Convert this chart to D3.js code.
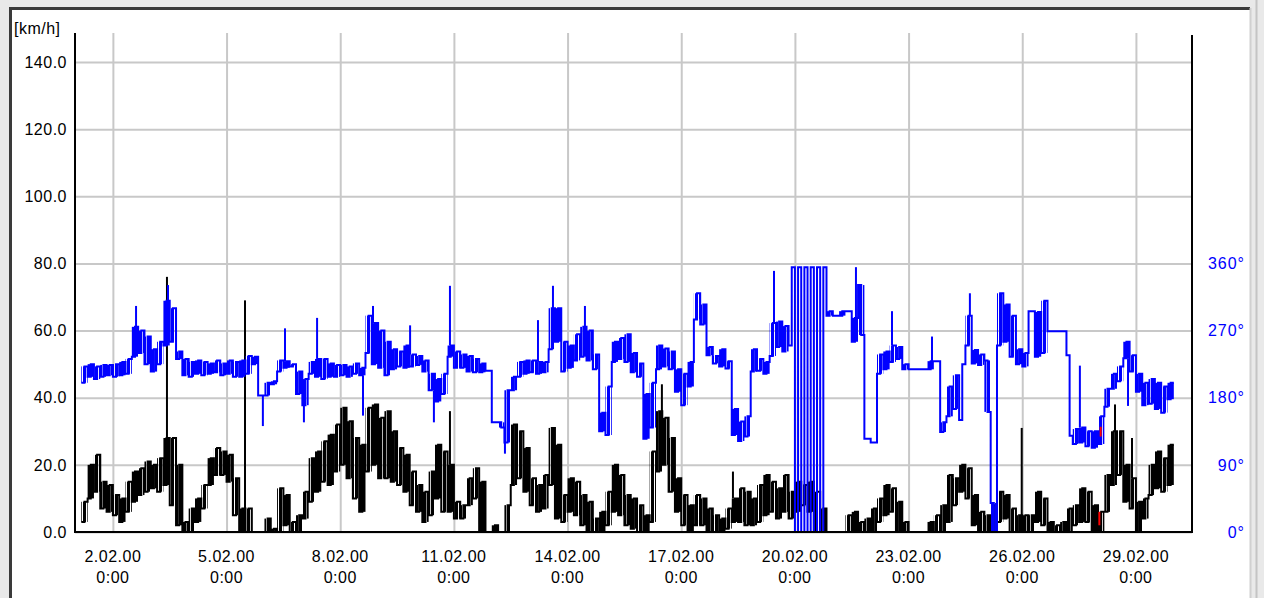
<!DOCTYPE html>
<html>
<head>
<meta charset="utf-8">
<script src="https://cdn.jsdelivr.net/npm/d3@7"></script>
<style>
    body { margin: 0; background: #ffffff; }
    svg { display: block; font-family: "Liberation Sans", Arial, sans-serif; }
    .grid line { stroke: #c8c8c8; stroke-width: 2; }
    .grid path { display: none; }
</style>
</head>
<body>
<script>
// wind speed (black) and direction (blue), 4-hour bins: low / high of the dense band in each bin
var binHours = 4;

var speedLo = [
    null, 3, 10, 12, 7, 6,      // 1.02
    5, 3, 6, 9, 11, 12,         // 2.02
    13, 12, 14, 8, 2, 0,
    0, 3, 7, 14, 17, 17,
    15, 5, 0, 0, 0, 0,          // 5.02
    0, 0, 0, 2, 0, 0,
    4, 9, 12, 15, 14, 18,
    20, 16, 10, 6, 18, 20,      // 8.02
    16, 16, 15, 14, 12, 8,
    6, 3, 5, 10, 6, 6,
    4, 4, 8, 10, 0, 0,          // 11.02
    0, 0, 0, 14, 16, 12,
    8, 6, 7, 14, 4, 3,
    6, 5, 2, 0, 0, 0,           // 14.02
    2, 6, 5, 2, 1, 0,
    0, 3, 18, 20, 12, 6,
    2, 0, 2, 2, 0, 0,           // 17.02
    0, 1, 3, 3, 2, 2,
    3, 5, 6, 4, 6, 4,
    6, 8, 6, 0, 0, 0,           // 20.02
    0, 0, 0, 0, 0, 0,
    0, 3, 5, 6, 0, 0,
    0, 0, 0, 0, 0, 0,           // 23.02
    3, 8, 12, 10, 2, 0,
    0, 0, 3, 4, 0, 0,
    0, 0, 3, 2, 0, 0,           // 26.02
    0, 0, 2, 3, 3, 0,
    0, 6, 14, 17, 9, 7,
    0, 4, 11, 13, 12, 14        // 29.02
];
var speedHi = [
    null, 9, 20, 23, 15, 14,
    11, 10, 15, 18, 19, 21,
    20, 22, 28, 28, 20, 3,
    7, 10, 14, 22, 25, 24,
    23, 16, 7, 7, 0, 0,
    4, 1, 13, 11, 3, 5,
    12, 22, 24, 27, 29, 32,
    37, 33, 28, 26, 37, 38,
    34, 36, 30, 25, 23, 18,
    14, 12, 18, 26, 24, 20,
    9, 8, 16, 19, 15, 0,
    2, 0, 8, 32, 30, 25,
    16, 14, 17, 31, 26, 11,
    16, 15, 11, 9, 4, 6,
    12, 20, 17, 11, 10, 8,
    5, 24, 36, 34, 28, 16,
    11, 8, 11, 10, 7, 5,
    4, 7, 10, 13, 12, 10,
    14, 17, 15, 13, 17, 12,
    15, 14, 15, 12, 7, 0,
    0, 0, 5, 6, 3, 4,
    7, 10, 14, 13, 9, 3,
    0, 0, 0, 3, 5, 8,
    17, 16, 20, 19, 11, 6,
    5, 8, 12, 11, 7, 5,
    5, 5, 12, 10, 3, 2,
    3, 7, 8, 13, 12, 8,
    6, 17, 30, 30, 20, 16,
    9, 10, 20, 24, 22, 26
];
var dirLo = [
    null, 200, 208, 205, 208, 210,
    208, 210, 212, 235, 240, 225,
    215, 225, 250, 255, 232, 210,
    208, 212, 210, 212, 214, 210,
    212, 208, 208, 212, 225, 183,
    183, 198, 215, 220, 222, 185,
    170, 212, 208, 205, 208, 208,
    210, 208, 212, 210, 240, 225,
    220, 210, 218, 222, 220, 222,
    224, 215, 190, 175, 185, 235,
    220, 220, 215, 214, 214, 216,
    147, 147, 120, 190, 208, 212,
    214, 212, 214, 245, 255, 215,
    220, 230, 235, 230, 218, 135,
    130, 228, 232, 228, 214, 208,
    125, 140, 218, 222, 218, 188,
    170, 195, 285, 278, 237, 226,
    222, 219, 130, 122, 128, 215,
    216, 212, 236, 248, 242, 250,
    0, 0, 0, 0, 0, 290,
    290, 290, 296, 255, 331, 125,
    120, 212, 218, 228, 232, 218,
    218, 218, 218, 218, 229, 134,
    155, 165, 150, 250, 226, 224,
    230, 39, 250, 255, 235, 225,
    222, 296, 235, 240, 269, 269,
    269, 237, 118, 120, 115, 113,
    118, 168, 192, 202, 233, 215,
    188, 170, 172, 165, 160, 178
];
var dirHi = [
    null, 222, 225, 222, 224, 224,
    225, 228, 232, 275, 270, 262,
    245, 255, 310, 300, 242, 232,
    228, 230, 228, 226, 230, 226,
    230, 228, 230, 236, 235, 183,
    200, 202, 230, 229, 225, 215,
    205, 228, 232, 232, 226, 224,
    224, 222, 226, 220, 290, 280,
    270, 255, 245, 242, 250, 238,
    236, 230, 212, 205, 212, 250,
    242, 238, 236, 232, 226, 216,
    147, 140, 190, 208, 228, 230,
    230, 228, 228, 300, 300, 255,
    250, 265, 275, 270, 238, 160,
    195, 255, 260, 265, 240, 226,
    185, 200, 250, 246, 242, 218,
    212, 228, 320, 305, 248, 236,
    245, 229, 165, 148, 155, 245,
    232, 228, 280, 282, 276, 355,
    355, 355, 355, 355, 355, 296,
    290, 296, 296, 287, 264, 125,
    120, 238, 242, 250, 248, 225,
    218, 218, 218, 229, 229, 147,
    195, 210, 225, 290, 244, 238,
    161, 0, 320, 305, 290, 245,
    240, 296, 295, 310, 269, 269,
    269, 129, 138, 140, 135, 135,
    155, 192, 212, 222, 255, 237,
    212, 200, 205, 200, 195, 200
];

// single short peaks sticking out of the band
var speedSpikeTimes = ["2000-02-03T10:15Z", "2000-02-05T11:40Z", "2000-02-10T21:30Z", "2000-02-16T11:45Z",
    "2000-02-18T08:45Z", "2000-02-25T23:40Z", "2000-02-28T10:45Z", "2000-02-28T21:30Z"];
var speedSpikeVals = [76, 69, 36, 44, 18, 31, 38, 28];

var dirSpikeTimes = ["2000-02-02T14:40Z", "2000-02-03T10:55Z", "2000-02-05T23:00Z", "2000-02-06T13:00Z",
    "2000-02-07T01:00Z", "2000-02-07T09:20Z", "2000-02-08T14:25Z", "2000-02-08T20:45Z",
    "2000-02-09T20:15Z", "2000-02-10T11:20Z", "2000-02-10T21:30Z", "2000-02-12T08:20Z",
    "2000-02-13T05:15Z", "2000-02-13T14:45Z", "2000-02-14T11:00Z", "2000-02-19T10:45Z",
    "2000-02-21T14:40Z", "2000-02-22T13:30Z", "2000-02-23T14:50Z", "2000-02-24T14:50Z",
    "2000-02-27T12:30Z", "2000-02-28T19:00Z"];
var dirSpikeVals = [303, 331, 142, 273, 147, 287, 156, 303, 277, 147, 330, 105,
    284, 330, 303, 350, 355, 296, 262, 320, 223, 169];

// short red marked piece on 28.02
var flagTimes = ["2000-02-28T00:50Z", "2000-02-28T01:40Z"];
var flagSpeed = [2, 6];
var flagDir = [128, 141];

var speedTicks = [0, 20, 40, 60, 80, 100, 120, 140];
var dirTicks = [0, 90, 180, 270, 360];
var dateTicks = ["2000-02-02", "2000-02-05", "2000-02-08", "2000-02-11", "2000-02-14",
    "2000-02-17", "2000-02-20", "2000-02-23", "2000-02-26", "2000-02-29"];

var margin = { top: 33, right: 72, bottom: 66, left: 75 };
var W = 1264, H = 598;
var width = W - margin.left - margin.right;
var height = H - margin.top - margin.bottom;

var t0 = Date.UTC(2000, 1, 1);
var hour = 3600 * 1000;

var svg = d3.select("body").append("svg")
    .attr("width", W)
    .attr("height", H);

var defs = svg.append("defs");
[["hatchBlack", "#000000"], ["hatchBlue", "#0000ff"]].forEach(function (p) {
    defs.append("pattern")
        .attr("id", p[0])
        .attr("width", 4).attr("height", 10)
        .attr("patternUnits", "userSpaceOnUse")
        .append("rect")
        .attr("width", 3).attr("height", 10)
        .attr("fill", p[1]);
});

// window frame
svg.append("rect").attr("width", W).attr("height", H).attr("fill", "#e9e9e9");
svg.append("rect").attr("x", 11).attr("y", 9).attr("width", 1239).attr("height", H - 9).attr("fill", "#ffffff");
svg.append("path").attr("d", "M10.5,598V8.5H1250").attr("fill", "none").attr("stroke", "#3a3a3a").attr("stroke-width", 3);
svg.append("path").attr("d", "M1250.5,8V598").attr("fill", "none").attr("stroke", "#d0d0d0").attr("stroke-width", 2);
svg.append("path").attr("d", "M1256.5,0V598").attr("fill", "none").attr("stroke", "#c4c4c4").attr("stroke-width", 2);

var chart = svg.append("g")
    .attr("transform", "translate(" + margin.left + "," + margin.top + ")");

var xScale = d3.scaleUtc()
    .domain([new Date(t0), new Date(t0 + 29.48 * 24 * hour)])
    .range([0, width]);

var yScale = d3.scaleLinear()
    .domain([0, 140])
    .range([height, 29]);

var dirScale = d3.scaleLinear()
    .domain([0, 360])
    .range([height, yScale(80)]);

var tickDates = dateTicks.map(function (s) { return new Date(s + "T00:00Z"); });

// gridlines
chart.append("g")
    .attr("class", "grid")
    .attr("transform", "translate(0," + height + ")")
    .call(d3.axisBottom(xScale)
        .tickValues(tickDates)
        .tickSize(-height)
        .tickFormat(""));

chart.append("g")
    .attr("class", "grid")
    .call(d3.axisLeft(yScale)
        .tickValues(speedTicks)
        .tickSize(-width)
        .tickFormat(""));

// lo/hi per bin -> stepped line points
function toPoints(lo, hi) {
    var pts = [];
    lo.forEach(function (v, i) {
        var t = t0 + i * binHours * hour;
        pts.push({ t: new Date(t), v: v });
        pts.push({ t: new Date(t + binHours / 2 * hour), v: hi[i] });
    });
    var n = lo.length;
    pts.push({ t: new Date(t0 + n * binHours * hour), v: hi[n - 1] });
    return pts;
}

function drawSeries(lo, hi, scale, color, pattern, maxBand, spikeTimes, spikeVals) {
    var g = chart.append("g");

    // band of each bin (wrap-around jumps of the direction are not a band)
    var bins = lo.map(function (v, i) {
        return { t: t0 + i * binHours * hour, lo: v, hi: hi[i] };
    }).filter(function (d) { return d.lo != null && Math.abs(d.hi - d.lo) <= maxBand; });

    g.selectAll(".band")
        .data(bins)
        .enter()
        .append("rect")
        .attr("class", "band")
        .attr("x", function (d) { return xScale(new Date(d.t)); })
        .attr("width", function (d) { return xScale(new Date(d.t + binHours * hour)) - xScale(new Date(d.t)); })
        .attr("y", function (d) { return scale(Math.max(d.lo, d.hi)); })
        .attr("height", function (d) { return Math.abs(scale(d.lo) - scale(d.hi)); })
        .attr("fill", "url(#" + pattern + ")");

    g.append("path")
        .datum(toPoints(lo, hi))
        .attr("d", d3.line()
            .defined(function (d) { return d.v != null; })
            .x(function (d) { return xScale(d.t); })
            .y(function (d) { return scale(d.v); })
            .curve(d3.curveStepAfter))
        .attr("fill", "none")
        .attr("stroke", color)
        .attr("stroke-width", 2);

    var spikes = spikeTimes.map(function (s, i) {
        var t = new Date(s);
        var b = Math.floor((t - t0) / (binHours * hour));
        var top = Math.max(lo[b], hi[b]), bot = Math.min(lo[b], hi[b]);
        var base = spikeVals[i] > top ? top : bot;
        return { t: t, v: spikeVals[i], base: base };
    });

    g.selectAll(".spike")
        .data(spikes)
        .enter()
        .append("line")
        .attr("class", "spike")
        .attr("x1", function (d) { return xScale(d.t); })
        .attr("x2", function (d) { return xScale(d.t); })
        .attr("y1", function (d) { return scale(d.base); })
        .attr("y2", function (d) { return scale(d.v); })
        .attr("stroke", color)
        .attr("stroke-width", 2);
}

drawSeries(speedLo, speedHi, yScale, "#000000", "hatchBlack", 100, speedSpikeTimes, speedSpikeVals);
drawSeries(dirLo, dirHi, dirScale, "#0000ff", "hatchBlue", 70, dirSpikeTimes, dirSpikeVals);

var flagPts = flagTimes.map(function (s) { return new Date(s); });
chart.append("line")
    .attr("x1", xScale(flagPts[0])).attr("x2", xScale(flagPts[0]))
    .attr("y1", yScale(flagSpeed[0])).attr("y2", yScale(flagSpeed[1]))
    .attr("stroke", "#ff0000").attr("stroke-width", 2);
chart.append("line")
    .attr("x1", xScale(flagPts[1])).attr("x2", xScale(flagPts[1]))
    .attr("y1", dirScale(flagDir[0])).attr("y2", dirScale(flagDir[1]))
    .attr("stroke", "#ff0000").attr("stroke-width", 2);

// axes lines
chart.append("line")
    .attr("x1", 0).attr("x2", 0).attr("y1", 0).attr("y2", height + 1)
    .attr("stroke", "#000").attr("stroke-width", 2);
chart.append("line")
    .attr("x1", width).attr("x2", width).attr("y1", 2).attr("y2", height + 1)
    .attr("stroke", "#000").attr("stroke-width", 2);
chart.append("line")
    .attr("x1", -1).attr("x2", width + 1).attr("y1", height).attr("y2", height)
    .attr("stroke", "#000").attr("stroke-width", 2);

// left labels
chart.selectAll(".ylab")
    .data(speedTicks)
    .enter()
    .append("text")
    .attr("class", "ylab")
    .attr("x", -8)
    .attr("y", function (d) { return yScale(d); })
    .attr("dy", "0.36em")
    .attr("text-anchor", "end")
    .attr("font-size", 16)
    .attr("letter-spacing", 0.5)
    .attr("fill", "#000")
    .text(function (d) { return d.toFixed(1); });

svg.append("text")
    .attr("x", 14)
    .attr("y", 34)
    .attr("font-size", 16)
    .attr("letter-spacing", 0.5)
    .attr("fill", "#000")
    .text("[km/h]");

// right labels
chart.selectAll(".dlab")
    .data(dirTicks)
    .enter()
    .append("text")
    .attr("class", "dlab")
    .attr("x", 1245 - margin.left)
    .attr("y", function (d) { return dirScale(d); })
    .attr("dy", "0.36em")
    .attr("text-anchor", "end")
    .attr("font-size", 16)
    .attr("letter-spacing", 1)
    .attr("fill", "#0000ff")
    .text(function (d) { return d + "°"; });

// bottom labels
var fmtDay = d3.utcFormat("%-d.%m.%y");
var fmtTime = d3.utcFormat("%-H:%M");
var xl = chart.selectAll(".xlab")
    .data(tickDates)
    .enter()
    .append("g")
    .attr("class", "xlab")
    .attr("transform", function (d) { return "translate(" + xScale(d) + "," + height + ")"; });
xl.append("text")
    .attr("y", 30)
    .attr("text-anchor", "middle")
    .attr("font-size", 16)
    .attr("letter-spacing", 0.5)
    .text(function (d) { return fmtDay(d); });
xl.append("text")
    .attr("y", 51)
    .attr("text-anchor", "middle")
    .attr("font-size", 16)
    .attr("letter-spacing", 0.5)
    .text(function (d) { return fmtTime(d); });
</script>
</body>
</html>
